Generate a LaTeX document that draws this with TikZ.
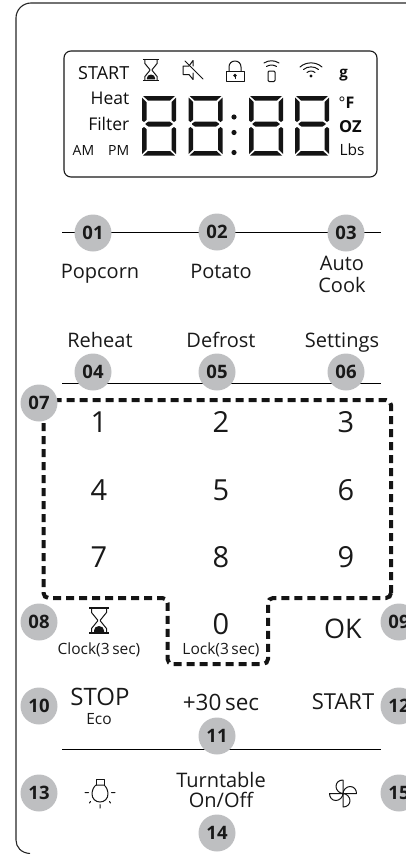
\documentclass[tikz,border=0pt]{standalone}
\usepackage{fontspec}
\setmainfont{Open Sans}
\newcommand\fs[1]{\fontsize{#1}{#1}\selectfont}
\newcommand\sevenseg[2]{%
\begin{scope}[shift={(#1,#2)}]
\fill[segc] (1,1) -- (33,1) -- (28,5.5) -- (6,5.5) -- cycle;
\fill[segc] (3.5,28.5) -- (6.5,26.5) -- (27.5,26.5) -- (30.5,28.5) -- (30.5,29.5) -- (27.5,31.5) -- (6.5,31.5) -- (3.5,29.5) -- cycle;
\fill[segc] (1,60.5) -- (33,60.5) -- (28,56) -- (6,56) -- cycle;
\fill[segc] (0,2.5) -- (4.5,7) -- (4.5,25) -- (2,27) -- (0,25.5) -- cycle;
\fill[segc] (34,2.5) -- (29.5,7) -- (29.5,25) -- (32,27) -- (34,25.5) -- cycle;
\fill[segc] (0,59) -- (4.5,54.5) -- (4.5,34) -- (2,32) -- (0,33.5) -- cycle;
\fill[segc] (34,59) -- (29.5,54.5) -- (29.5,34) -- (32,32) -- (34,33.5) -- cycle;
\end{scope}}
\newcommand\hourglass[3]{%
\begin{scope}[shift={(#1,#2)},scale=#3]
\draw[line width=1.2pt,draw=ink] (-10,-12.5) -- (10,-12.5) (-10,12.5) -- (10,12.5);
\draw[line width=1pt,draw=ink] (-7.5,-12.5) -- (-7.5,-8) -- (-1.4,-0.5) -- (-1.4,0.5) -- (-7.5,8) -- (-7.5,12.5) (7.5,-12.5) -- (7.5,-8) -- (1.4,-0.5) -- (1.4,0.5) -- (7.5,8) -- (7.5,12.5);
\fill[ink] (-5,11.5) -- (-5,10) .. controls (-5,7.5) and (-3,5.5) .. (0,5.5) .. controls (3,5.5) and (5,7.5) .. (5,10) -- (5,11.5) -- cycle;
\end{scope}}
\definecolor{badgegray}{RGB}{190,191,193}
\colorlet{ink}{black!92}
\colorlet{segc}{black!92}
\tikzset{
  x=1pt,y=-1pt,
  badge/.style={circle,fill=badgegray,minimum size=37pt,inner sep=0pt,text=black!90,font=\fs{18.5}\bfseries},
  rule/.style={draw=black,line width=0.8pt},
  lbl/.style={inner sep=0pt,anchor=base,text=black!90,font=\fs{20}},
  digitlbl/.style={inner sep=0pt,anchor=base,text=black!90,font=\fs{29}},
  lcd/.style={inner sep=0pt,text=black!95},
  icon/.style={draw=ink,line width=1pt,line cap=round,line join=round},
  small/.style={inner sep=0pt,anchor=base,text=black!90,font=\fs{15.5}},
}
\begin{document}
\begin{tikzpicture}
\useasboundingbox (0,0) rectangle (406,854);
\clip (0,0) rectangle (406,854);
% outer frame
\draw[draw=black!85,line width=1.1pt] (410,3) -- (31,3) .. controls (22.7,3) and (16,9.7) .. (16,18) -- (16,840) .. controls (16,847) and (21,853) .. (30,853.5);
% LCD
\draw[draw=black!90,line width=1.1pt,rounded corners=7pt] (64,51) rectangle (377,177);
\node[lcd,anchor=base east,font=\fs{18}] (tstart) at (129.5,79) {START};
\node[lcd,anchor=base east,font=\fs{17.5}] (theat) at (129.5,104) {Heat};
\node[lcd,anchor=base east,font=\fs{17.5}] (tfilter) at (129.5,130) {Filter};
\node[lcd,anchor=base west,font=\fs{14}] (tam) at (72.5,155.5) {AM};
\node[lcd,anchor=base east,font=\fs{14}] (tpm) at (129.5,155.5) {PM};
\node[lcd,anchor=base,font=\fs{15}\bfseries] (tg) at (343.5,77) {g};
\node[lcd,anchor=base west,font=\fs{16}] (tf) at (338.5,108) {°\textbf{F}};
\node[lcd,anchor=base west,font=\fs{16.5}] (toz) at (339,132) {\textbf{OZ}};
\node[lcd,anchor=base west,font=\fs{15.5}] (tlbs) at (339.5,155.5) {Lbs};
\sevenseg{142}{95}
\sevenseg{188.5}{95}
\sevenseg{249}{95}
\sevenseg{295}{95}
\fill[ink] (234,117) circle (2.6) (234,132.5) circle (2.6) (234,152.5) circle (2.6);
\hourglass{151}{70}{0.82}
% mute
\begin{scope}[shift={(193,70)}]
\draw[icon] (0,-4) -- (0,-9.5) -- (-4,-4) -- (-10,-4) -- (-10,4.5) -- (-4,4.5) -- (0,9.5) -- (0,3);
\draw[icon] (-8,-9) -- (10,9);
\end{scope}
% lock
\begin{scope}[shift={(235,71)}]
\draw[icon] (-9,0) rectangle (9,10.5);
\draw[icon] (-6,0) -- (-6,-4) .. controls (-6,-7.5) and (-3.5,-10) .. (0,-10) .. controls (3.5,-10) and (6,-7.5) .. (6,-4) -- (6,0);
\fill[ink] (0,4.5) circle (1.8);
\draw[icon] (0,5) -- (0,7.5);
\end{scope}
% remote
\begin{scope}[shift={(271.5,71)}]
\draw[icon,rounded corners=1.2pt] (-3.5,0) rectangle (3.5,10.5);
\draw[icon] (-5,-4.5) .. controls (-2,-6.5) and (2,-6.5) .. (5,-4.5);
\draw[icon] (-7.5,-8) .. controls (-3,-11) and (3,-11) .. (7.5,-8);
\end{scope}
% wifi
\begin{scope}[shift={(311,76)}]
\fill[ink] (0,0) circle (1.6);
\draw[icon] (-4,-3.5) .. controls (-2,-5.5) and (2,-5.5) .. (4,-3.5);
\draw[icon] (-7.5,-6.5) .. controls (-3.5,-10) and (3.5,-10) .. (7.5,-6.5);
\draw[icon] (-11,-9) .. controls (-5,-14.5) and (5,-14.5) .. (11,-9);
\end{scope}
% rules
\coordinate (r1l) at (62,232); \coordinate (r1r) at (381,232);
\coordinate (r2l) at (62,383); \coordinate (r2r) at (381,383);
\coordinate (r3l) at (62,749); \coordinate (r3r) at (381,749);
\draw[rule] (r1l) -- (r1r);
\draw[rule] (r2l) -- (r2r);
\draw[rule] (r3l) -- (r3r);
% dashed keypad
\coordinate (d1) at (43.5,400); \coordinate (d2) at (391,400);
\coordinate (d3) at (391,598); \coordinate (d4) at (268,598);
\coordinate (d5) at (268,664); \coordinate (d6) at (167.5,664);
\coordinate (d7) at (167.5,598); \coordinate (d8) at (43.5,598);
\draw[draw=black!92,line width=4pt,dash pattern=on 8pt off 5pt,rounded corners=5pt] (d3) -- (d2) -- (d1) -- (d8) -- (d7) -- (d6) -- (d5) -- (d4) -- cycle;
% badges
\node[badge] (b01) at (93,233) {01};
\node[badge] (b02) at (217,232) {02};
\node[badge] (b03) at (346,233) {03};
\node[badge] (b04) at (93,372) {04};
\node[badge] (b05) at (217,372) {05};
\node[badge] (b06) at (346,372) {06};
\node[badge] (b07) at (39,403) {07};
\node[badge] (b08) at (39,622) {08};
\node[badge] (b09) at (399,622) {09};
\node[badge] (b10) at (39,706) {10};
\node[badge] (b11) at (217,736) {11};
\node[badge] (b12) at (399,706) {12};
\node[badge] (b13) at (39,793) {13};
\node[badge] (b14) at (217,833) {14};
\node[badge] (b15) at (399,793) {15};
% labels
\node[lbl] (popcorn) at (100,278) {Popcorn};
\node[lbl] (potato) at (221,278) {Potato};
\node[lbl] (auto) at (342,270) {Auto};
\node[lbl] (cook) at (342,292) {Cook};
\node[lbl] (reheat) at (100,347) {Reheat};
\node[lbl] (defrost) at (221,347) {Defrost};
\node[lbl] (settings) at (342,347) {Settings};
\node[digitlbl] (k1) at (99,432) {1};
\node[digitlbl] (k2) at (221,432) {2};
\node[digitlbl] (k3) at (346,432) {3};
\node[digitlbl] (k4) at (99,500) {4};
\node[digitlbl] (k5) at (221,500) {5};
\node[digitlbl] (k6) at (346,500) {6};
\node[digitlbl] (k7) at (99,567) {7};
\node[digitlbl] (k8) at (221,567) {8};
\node[digitlbl] (k9) at (346,567) {9};
\node[digitlbl] (k0) at (221,634) {0};
\node[lbl,font=\fs{27}] (ok) at (343,638) {OK};
\hourglass{99}{620.5}{1}
\node[small] (clock) at (99,654) {Clock(3\,sec)};
\node[small] (lock) at (221,654) {Lock(3\,sec)};
\node[lbl,font=\fs{24}] (stop) at (100,705) {STOP};
\node[small] (eco) at (99,724) {Eco};
\node[lbl,font=\fs{22.5}] (plus) at (221,710) {+30\,sec};
\node[lbl,font=\fs{22}] (startb) at (343,709) {START};
\node[lbl] (turn) at (221,787) {Turntable};
\node[lbl] (onoff) at (221,807) {On/Off};
% lamp
\begin{scope}[shift={(100,794)}]
\draw[icon] (-4,-9) -- (-4,-14.5) -- (4,-14.5) -- (4,-9);
\draw[icon] (-4,-9) .. controls (-6,-7.5) and (-8,-4) .. (-8,0) .. controls (-8,4.5) and (-4.5,8) .. (0,8) .. controls (4.5,8) and (8,4.5) .. (8,0) .. controls (8,-4) and (6,-7.5) .. (4,-9) -- cycle;
\draw[icon] (-15,-1.5) -- (-11.5,-1.5) (11.5,-1.5) -- (15,-1.5) (0,10.5) -- (0,14) (-9.5,7.5) -- (-10.5,9) (9.5,7.5) -- (10.5,9);
\end{scope}
% fan
\begin{scope}[shift={(343,793.5)}]
\draw[icon] (0,0) -- (0,-13.5) .. controls (-4,-13.5) and (-7,-11) .. (-7,-7) .. controls (-7,-3.5) and (-3.5,0) .. (0,0);
\draw[icon] (0,0) -- (13.5,0) .. controls (13.5,-4) and (11,-7) .. (7,-7) .. controls (3.5,-7) and (0,-3.5) .. (0,0);
\draw[icon] (0,0) -- (0,13.5) .. controls (4,13.5) and (7,11) .. (7,7) .. controls (7,3.5) and (3.5,0) .. (0,0);
\draw[icon] (0,0) -- (-13.5,0) .. controls (-13.5,4) and (-11,7) .. (-7,7) .. controls (-3.5,7) and (0,3.5) .. (0,0);
\end{scope}
\end{tikzpicture}
\end{document}
